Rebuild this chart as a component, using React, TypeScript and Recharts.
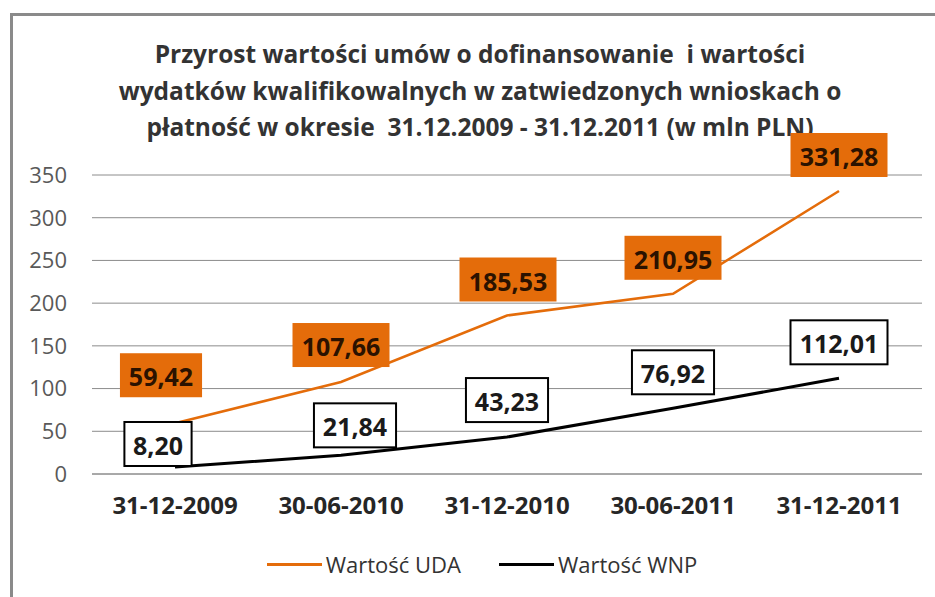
import { LineChart, Line, XAxis, YAxis, CartesianGrid, Legend, LabelList } from "recharts";

const dates = ["31-12-2009", "30-06-2010", "31-12-2010", "30-06-2011", "31-12-2011"];
const uda = [59.42, 107.66, 185.53, 210.95, 331.28];
const wnp = [8.2, 21.84, 43.23, 76.92, 112.01];
const yTicks = [0, 50, 100, 150, 200, 250, 300, 350];

const titleLines = [
  "Przyrost wartości umów o dofinansowanie  i wartości",
  "wydatków kwalifikowalnych w zatwiedzonych wnioskach o",
  "płatność w okresie  31.12.2009 - 31.12.2011 (w mln PLN)",
];

const ORANGE = "#e46c0a";
const FONT = "'Open Sans', 'Noto Sans', sans-serif";

// label box nudges (dx, dy from the point) per category
const udaOffsets = [[-14, -48], [0, -37], [1, -36], [0, -36], [0, -36]];
const wnpOffsets = [[-17, -23], [14, -30], [0, -37], [0, -36], [0, -36]];

const data = dates.map((d, i) => ({ date: d, uda: uda[i], wnp: wnp[i] }));

const fmt = (v: number) => v.toFixed(2).replace(".", ",");

function makeLabel(kind: "uda" | "wnp") {
  const offs = kind === "uda" ? udaOffsets : wnpOffsets;
  return (props: any) => {
    const { x, y, value, index } = props;
    const text = fmt(value);
    const w = (text.length - 1) * 14.9 + 22.5;
    const h = 44;
    const cx = x + offs[index][0];
    const cy = y + offs[index][1];
    return (
      <g>
        <rect
          x={cx - w / 2}
          y={cy - h / 2}
          width={w}
          height={h}
          fill={kind === "uda" ? ORANGE : "#ffffff"}
          stroke={kind === "uda" ? "none" : "#000"}
          strokeWidth={2}
        />
        <text
          x={cx}
          y={cy + 1}
          textAnchor="middle"
          dominantBaseline="central"
          fontFamily={FONT}
          fontWeight={700}
          fontSize={25}
          fill={kind === "uda" ? "#2b1200" : "#1a1a1a"}
        >
          {text}
        </text>
      </g>
    );
  };
}

function LegendContent() {
  const items = [
    { name: "Wartość UDA", color: ORANGE },
    { name: "Wartość WNP", color: "#000" },
  ];
  return (
    <div
      style={{
        display: "flex",
        justifyContent: "center",
        gap: 38,
        height: 30,
        alignItems: "center",
        fontFamily: FONT,
        fontSize: 22,
        color: "#333",
        paddingLeft: 30,
      }}
    >
      {items.map((it) => (
        <div key={it.name} style={{ display: "flex", alignItems: "center" }}>
          <span style={{ display: "inline-block", width: 55, height: 3, background: it.color, marginRight: 4 }} />
          {it.name}
        </div>
      ))}
    </div>
  );
}

export default function App() {
  return (
    <div style={{ position: "absolute", left: 0, top: 0, width: 935, height: 597, background: "#fff", overflow: "hidden" }}>
      <div
        style={{
          position: "absolute",
          left: 10,
          top: 13,
          width: 960,
          height: 620,
          borderLeft: "3px solid #8a8a8a",
          borderTop: "3px solid #8a8a8a",
        }}
      />
      <div
        style={{
          position: "absolute",
          left: 0,
          width: 960,
          top: 36,
          textAlign: "center",
          fontFamily: FONT,
          fontWeight: 700,
          fontSize: 24.5,
          lineHeight: "36.5px",
          color: "#333",
        }}
      >
        {titleLines.map((t) => (
          <div key={t} style={{ whiteSpace: "pre" }}>{t}</div>
        ))}
      </div>
      <div style={{ position: "absolute", left: 0, top: 0 }}>
        <LineChart width={935} height={597} data={data} margin={{ top: 175, right: 13, bottom: 63, left: 12 }}>
          <CartesianGrid vertical={false} stroke="#8c8c8c" strokeWidth={1} />
          <XAxis
            dataKey="date"
            height={30}
            padding={{ left: 83, right: 83 }}
            axisLine={{ stroke: "#8c8c8c" }}
            tickLine={false}
            tickMargin={17}
            tick={{ fill: "#262626", fontSize: 24, fontWeight: 700, fontFamily: FONT }}
          />
          <YAxis
            domain={[0, 350]}
            ticks={yTicks}
            width={80}
            axisLine={false}
            tickLine={false}
            tickMargin={19}
            tick={{ fill: "#595959", fontSize: 22, fontFamily: FONT }}
          />
          <Legend verticalAlign="bottom" height={30} wrapperStyle={{ bottom: 18 }} content={<LegendContent />} />
          <Line type="linear" dataKey="uda" name="Wartość UDA" stroke={ORANGE} strokeWidth={2.5} dot={false} isAnimationActive={false}>
            <LabelList dataKey="uda" content={makeLabel("uda")} />
          </Line>
          <Line type="linear" dataKey="wnp" name="Wartość WNP" stroke="#000" strokeWidth={3} dot={false} isAnimationActive={false}>
            <LabelList dataKey="wnp" content={makeLabel("wnp")} />
          </Line>
        </LineChart>
      </div>
    </div>
  );
}
